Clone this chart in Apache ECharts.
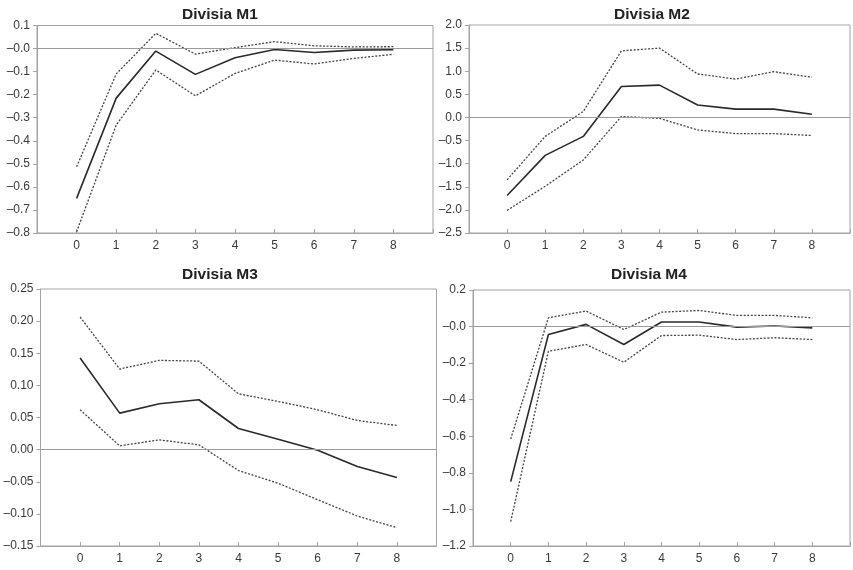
<!DOCTYPE html>
<html>
<head>
<meta charset="utf-8">
<script src="https://cdn.jsdelivr.net/npm/echarts@6/dist/echarts.min.js"></script>
<style>
  html, body { margin: 0; padding: 0; background: #fff; }
  #chart { width: 853px; height: 570px; }
</style>
</head>
<body>
<div id="chart"></div>
<script>
// Impulse responses over horizons 0..8: point estimate with upper/lower bands
const horizons = [0, 1, 2, 3, 4, 5, 6, 7, 8];

const m1Mid   = [-0.650, -0.215, -0.011, -0.112, -0.040, -0.004, -0.017, -0.007, -0.005];
const m1Upper = [-0.513, -0.110,  0.066, -0.024,  0.004,  0.030,  0.012,  0.007,  0.008];
const m1Lower = [-0.795, -0.332, -0.093, -0.205, -0.108, -0.050, -0.067, -0.043, -0.025];

const m2Mid   = [-1.69, -0.82, -0.41, 0.67, 0.70, 0.27, 0.18, 0.18, 0.07];
const m2Upper = [-1.35, -0.41,  0.13, 1.44, 1.50, 0.94, 0.83, 0.99, 0.87];
const m2Lower = [-2.01, -1.49, -0.92, 0.02, -0.02, -0.27, -0.35, -0.35, -0.39];

const m3Mid   = [0.1425, 0.0568, 0.0713, 0.0776, 0.0329, 0.0163, -0.0009, -0.0264, -0.0435];
const m3Upper = [0.2064, 0.1254, 0.1389, 0.1378, 0.0869, 0.0750, 0.0620, 0.0454, 0.0376];
const m3Lower = [0.0620, 0.0059, 0.0152, 0.0074, -0.0326, -0.0523, -0.0780, -0.1033, -0.1215];

const m4Mid   = [-0.848, -0.043, 0.012, -0.098, 0.025, 0.025, -0.003, 0.003, -0.007];
const m4Upper = [-0.615, 0.048, 0.085, -0.016, 0.079, 0.088, 0.061, 0.061, 0.048];
const m4Lower = [-1.067, -0.135, -0.098, -0.195, -0.049, -0.047, -0.071, -0.061, -0.071];

const titles = ['Divisia M1', 'Divisia M2', 'Divisia M3', 'Divisia M4'];

// Y tick labels, bottom to top
const m1Ticks = ['\u20130.8', '\u20130.7', '\u20130.6', '\u20130.5', '\u20130.4', '\u20130.3', '\u20130.2', '\u20130.1', '\u20130.0', '0.1'];
const m2Ticks = ['\u20132.5', '\u20132.0', '\u20131.5', '\u20131.0', '\u20130.5', '0.0', '0.5', '1.0', '1.5', '2.0'];
const m3Ticks = ['\u20130.15', '\u20130.10', '\u20130.05', '0.00', '0.05', '0.10', '0.15', '0.20', '0.25'];
const m4Ticks = ['\u20131.2', '\u20131.0', '\u20130.8', '\u20130.6', '\u20130.4', '\u20130.2', '\u20130.0', '0.2'];

const panels = [
  { mid: m1Mid, up: m1Upper, lo: m1Lower, ticks: m1Ticks, min: -0.8, max: 0.1, step: 0.1,
    grid: { left: 37, top: 25.5, width: 396, height: 207.5 }, titleX: 215, titleY: 2 },
  { mid: m2Mid, up: m2Upper, lo: m2Lower, ticks: m2Ticks, min: -2.5, max: 2.0, step: 0.5,
    grid: { left: 469, top: 25, width: 387, height: 208 }, titleX: 647, titleY: 2 },
  { mid: m3Mid, up: m3Upper, lo: m3Lower, ticks: m3Ticks, min: -0.15, max: 0.25, step: 0.05,
    grid: { left: 40.5, top: 289, width: 396, height: 257 }, titleX: 215, titleY: 262 },
  { mid: m4Mid, up: m4Upper, lo: m4Lower, ticks: m4Ticks, min: -1.2, max: 0.2, step: 0.2,
    grid: { left: 473, top: 290, width: 380, height: 256 }, titleX: 644, titleY: 262 }
];

const axisGray = '#a3a3a3';
const textColor = '#3a3a3a';
const fontFamily = 'Liberation Sans, Arial, sans-serif';

const option = {
  animation: false,
  backgroundColor: '#fff',
  title: panels.map((p, i) => ({
    text: titles[i],
    left: p.titleX,
    top: p.titleY,
    textAlign: 'center',
    textStyle: { fontFamily, fontSize: 15.5, fontWeight: 'bold', color: '#222' }
  })),
  grid: panels.map(p => Object.assign({
    show: true, borderColor: axisGray, borderWidth: 1, backgroundColor: 'transparent'
  }, p.grid)),
  xAxis: panels.map((p, i) => ({
    type: 'value',
    gridIndex: i,
    min: -1, max: 9, interval: 1,
    axisLine: { show: true, onZero: false, lineStyle: { color: axisGray } },
    axisTick: { show: true, inside: true, length: 4, lineStyle: { color: axisGray } },
    splitLine: { show: false },
    axisLabel: {
      color: textColor, fontFamily, fontSize: 12, margin: 7,
      formatter: v => (horizons.indexOf(v) >= 0 ? String(v) : '')
    }
  })),
  yAxis: panels.map((p, i) => ({
    type: 'value',
    gridIndex: i,
    min: p.min, max: p.max, interval: p.step,
    axisLine: { show: true, onZero: false, lineStyle: { color: axisGray } },
    axisTick: { show: true, inside: false, length: 4, lineStyle: { color: axisGray } },
    splitLine: { show: false },
    axisLabel: {
      color: textColor, fontFamily, fontSize: 12, margin: 7,
      formatter: v => {
        const k = Math.round((v - p.min) / p.step);
        return p.ticks[k] !== undefined ? p.ticks[k] : '';
      }
    }
  })),
  series: []
};

panels.forEach((p, i) => {
  const pairs = arr => horizons.map((h, k) => [h, arr[k]]);
  const band = arr => ({
    type: 'line', xAxisIndex: i, yAxisIndex: i, data: pairs(arr),
    symbol: 'none', silent: true,
    lineStyle: { color: '#444', width: 1.3, type: [2, 1.6] }
  });
  option.series.push(band(p.up));
  option.series.push(band(p.lo));
  option.series.push({
    type: 'line', xAxisIndex: i, yAxisIndex: i, data: pairs(p.mid),
    symbol: 'none', silent: true, z: 3,
    lineStyle: { color: '#2a2a2a', width: 1.6 },
    markLine: {
      silent: true, symbol: 'none', label: { show: false },
      lineStyle: { color: '#9a9a9a', width: 1, type: 'solid' },
      data: [{ yAxis: 0 }]
    }
  });
});

const chart = echarts.init(document.getElementById('chart'), null, { renderer: 'canvas' });
chart.setOption(option);
</script>
</body>
</html>
